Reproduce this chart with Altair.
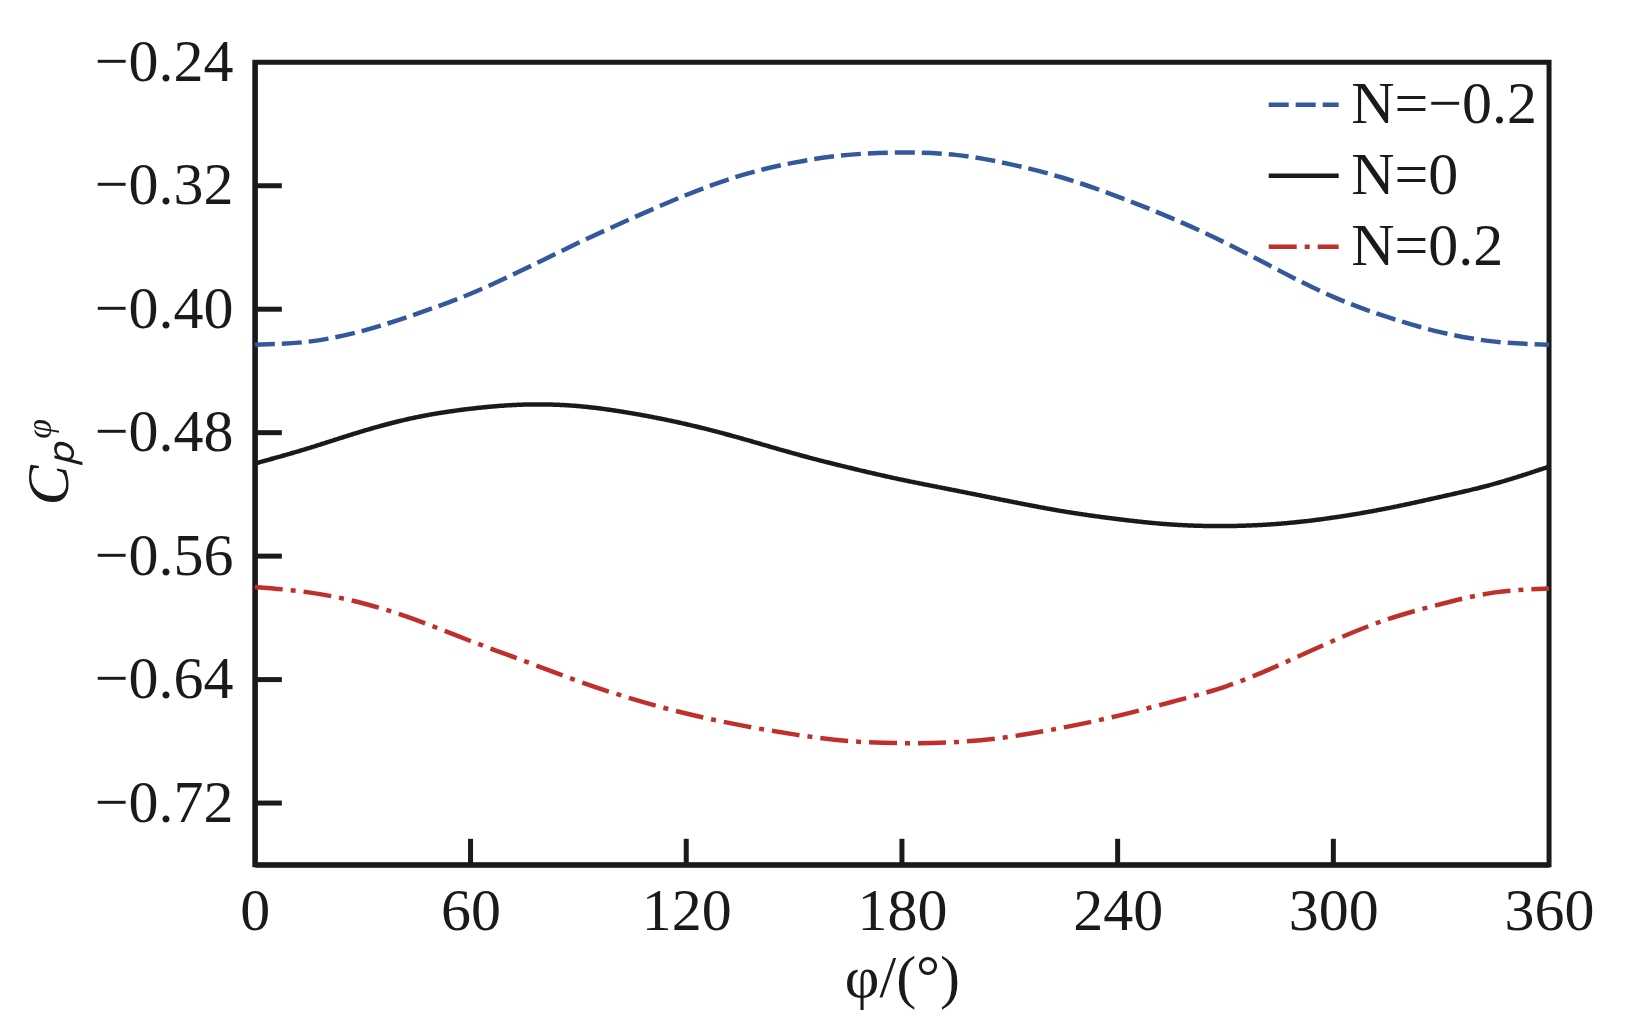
import altair as alt
import pandas as pd

# Angle (degrees)
phi = [0, 15, 30, 45, 60, 75, 90, 105, 120, 135, 150, 165, 180,
       195, 210, 225, 240, 255, 270, 285, 300, 315, 330, 345, 360]

# Cp^phi for N = -0.2 (blue dashed)
cp_neg = [-0.423, -0.421, -0.414, -0.403, -0.390, -0.374, -0.357, -0.341, -0.326,
          -0.3135, -0.305, -0.300, -0.2985, -0.300, -0.306, -0.315, -0.327, -0.341,
          -0.357, -0.375, -0.392, -0.405, -0.415, -0.421, -0.423]
# N = 0 (black solid)
cp_zero = [-0.500, -0.490, -0.479, -0.470, -0.4645, -0.4618, -0.4628, -0.4675, -0.4745,
           -0.4835, -0.4935, -0.5025, -0.5105, -0.5175, -0.5245, -0.531, -0.536, -0.5395,
           -0.5405, -0.539, -0.535, -0.529, -0.5215, -0.513, -0.502]
# N = 0.2 (red dash-dot)
cp_pos = [-0.580, -0.5835, -0.5905, -0.6015, -0.615, -0.628, -0.641, -0.6525, -0.662,
          -0.6695, -0.6755, -0.6798, -0.6812, -0.6805, -0.677, -0.671, -0.6635, -0.6545,
          -0.6445, -0.6305, -0.6148, -0.601, -0.591, -0.5835, -0.581]

series_names = ["N=\u22120.2", "N=0", "N=0.2"]
series_colors = ["#34589c", "#1a1a1a", "#c0302b"]
series_dashes = [[20, 7], [1, 0], [28, 8, 5, 8]]

x_ticks = [0, 60, 120, 180, 240, 300, 360]
x_inner_ticks = [60, 120, 180, 240, 300]
y_ticks = [-0.24, -0.32, -0.40, -0.48, -0.56, -0.64, -0.72]
y_inner_ticks = [-0.32, -0.40, -0.48, -0.56, -0.64, -0.72]

rows = []
for name, vals in zip(series_names, [cp_neg, cp_zero, cp_pos]):
    for p, v in zip(phi, vals):
        rows.append({"phi": p, "cp": v, "series": name})
df = pd.DataFrame(rows)

W, H = 1295, 803
FONT = "Liberation Serif, Times New Roman, serif"
INK = "#1a1a1a"

x_scale = alt.Scale(domain=[0, 360], nice=False, zero=False)
y_scale = alt.Scale(domain=[-0.76, -0.24], nice=False, zero=False)

x_axis = alt.Axis(values=x_ticks, title="\u03c6/(\u00b0)", format="d",
                  labelPadding=18, titlePadding=8, grid=False,
                  labelFlush=False, labelOverlap=False, labelBound=False)
y_axis = alt.Axis(values=y_ticks, title="C\u209a\u1d60", format=".2f",
                  labelPadding=22, titlePadding=14, grid=False,
                  labelFlush=False, labelOverlap=False,
                  titleFontStyle="italic")

legend = alt.Legend(title=None, orient="none", legendX=1012, legendY=5,
                    symbolType="stroke", symbolSize=4900, symbolStrokeWidth=4.5,
                    labelFont=FONT, labelFontSize=60, labelColor=INK, labelLimit=500,
                    labelOffset=10, rowPadding=3, padding=0)

lines = alt.Chart(df).mark_line(strokeWidth=4.5, interpolate="natural").encode(
    x=alt.X("phi:Q", scale=x_scale, axis=x_axis),
    y=alt.Y("cp:Q", scale=y_scale, axis=y_axis),
    color=alt.Color("series:N", scale=alt.Scale(domain=series_names, range=series_colors),
                    legend=legend, sort=series_names),
    strokeDash=alt.StrokeDash("series:N", scale=alt.Scale(domain=series_names, range=series_dashes),
                              legend=legend, sort=series_names),
)

xt = pd.DataFrame({"phi": x_inner_ticks})
yt = pd.DataFrame({"cp": y_inner_ticks})

x_tick_rules = alt.Chart(xt).mark_rule(strokeWidth=5, color=INK).encode(
    x=alt.X("phi:Q", scale=x_scale, axis=x_axis),
    y=alt.value(H),
    y2=alt.value(H - 26),
)
y_tick_rules = alt.Chart(yt).mark_rule(strokeWidth=5, color=INK).encode(
    y=alt.Y("cp:Q", scale=y_scale, axis=y_axis),
    x=alt.value(0),
    x2=alt.value(27),
)

chart = alt.layer(lines, x_tick_rules, y_tick_rules).properties(
    width=W, height=H,
    background="white",
    autosize=alt.AutoSizeParams(type="none"),
    padding={"left": 247, "top": 54, "right": 70, "bottom": 160},
).configure_view(
    stroke=INK, strokeWidth=5
).configure_axis(
    domainColor=INK, domainWidth=5, ticks=False, tickSize=0,
    labelFont=FONT, labelFontSize=60, labelColor=INK,
    titleFont=FONT, titleFontSize=60, titleColor=INK, titleFontWeight="normal",
)

chart.save("out.html", embed_options={"renderer": "svg", "actions": False})
